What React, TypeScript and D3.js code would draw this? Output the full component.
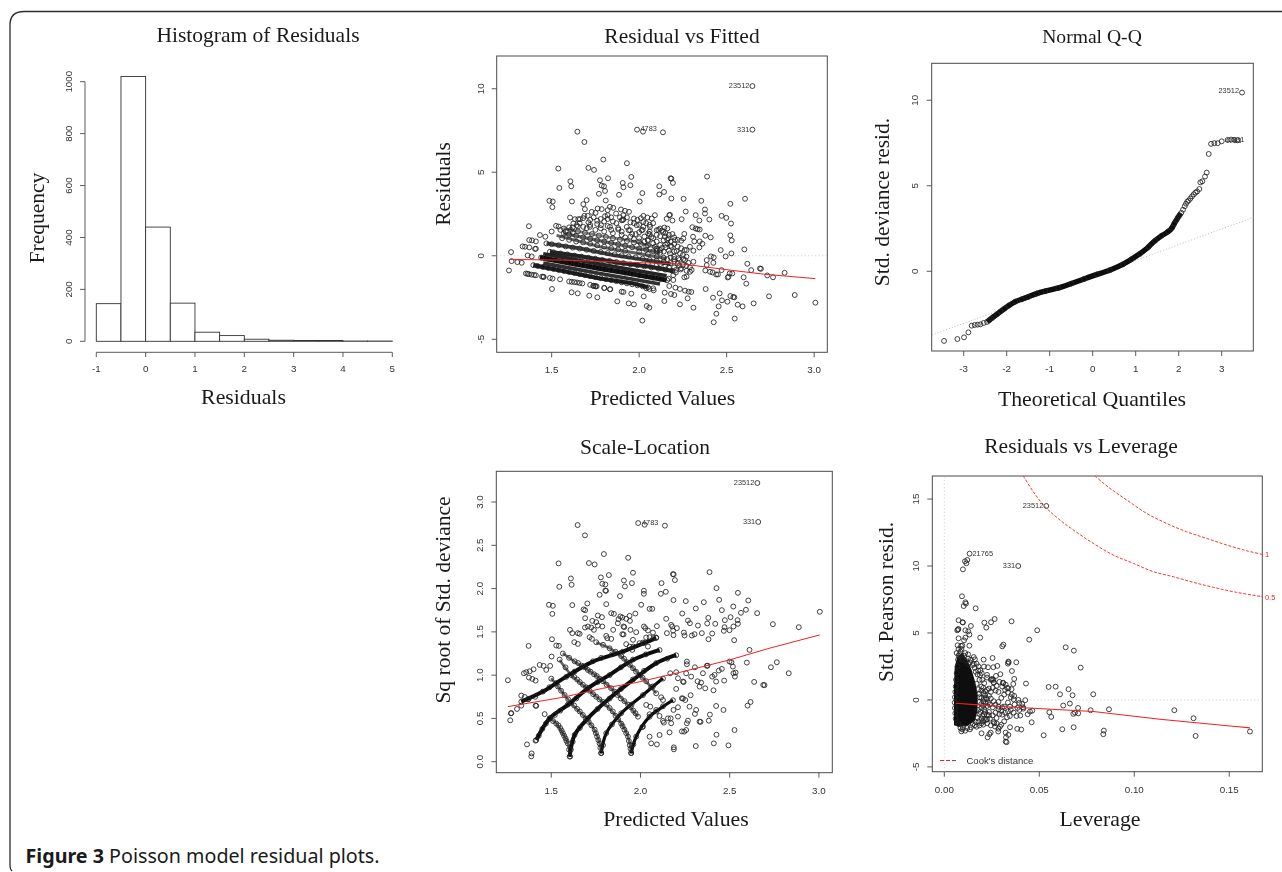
import React from "react";
import * as d3 from "d3";

type P = [number, number];

// ---- Histogram ----
const histEdges = [-1, -0.5, 0, 0.5, 1, 1.5, 2, 2.5, 3, 3.5, 4, 4.5, 5];
const histCounts = [145, 1020, 440, 147, 35, 22, 8, 4, 3, 3, 1, 1];
const histXTicks = [-1, 0, 1, 2, 3, 4, 5];
const histYTicks = [0, 200, 400, 600, 800, 1000];

// ---- Residual vs Fitted ----
const rvfFitLine: P[] = [[1.262,-.22],[1.567,-.26],[2.024,-.42],[2.252,-.5],[2.519,-.86],[2.71,-1.1],[3.007,-1.37]];
const rvfBandCores: P[][] = [
  [[1.433,-.1],[1.586,-.4],[1.776,-.76],[1.967,-1.1],[2.157,-1.46]],
  [[1.395,-.56],[1.586,-.96],[1.776,-1.36],[1.967,-1.66],[2.05,-1.88]],
  [[1.49,.24],[1.681,-.06],[1.871,-.4],[2.062,-.66],[2.195,-.92]],
  [[1.471,.74],[1.662,.44],[1.852,.04],[2.043,-.26],[2.18,-.5]],
  [[1.567,1.34],[1.757,.94],[1.947,.54],[2.12,.18]],
  [[1.567,1.64],[1.757,1.24],[1.947,.9],[2.119,.44]],
  [[1.452,-.44],[1.776,-1.06],[2.119,-1.69]],
  [[1.452,.12],[1.776,-.5],[2.157,-1.2]],
  [[1.528,1.22],[1.776,.54],[2.157,-.16]],
];
const rvfBandPoints: P[] = [
  [1.353,-1.06],[1.362,-1.08],[1.37,-1.1],[1.385,-1.13],[1.4,-1.15],[1.41,-1.17],[1.445,-1.25],[1.452,-1.26],[1.455,-1.27],[1.49,-1.33],[1.505,-1.37],[1.548,-1.41],[1.6,-1.54],[1.615,-1.56],[1.63,-1.58],[1.645,-1.6],[1.66,-1.63],[1.675,-1.66],[1.72,-1.74],[1.74,-1.79],[1.75,-1.82],[1.757,-1.83],[1.8,-1.93],[1.835,-2],
  [1.395,-.56],[1.42,-.61],[1.45,-.67],[1.48,-.73],[1.51,-.79],[1.54,-.85],[1.57,-.91],[1.6,-.97],[1.63,-1.03],[1.66,-1.1],[1.69,-1.16],[1.72,-1.22],[1.75,-1.28],[1.78,-1.34],[1.81,-1.4],[1.84,-1.46],[1.87,-1.52],[1.9,-1.59],[1.93,-1.65],[1.96,-1.71],[1.99,-1.77],[2.02,-1.83],[2.05,-1.89],[2.08,-1.95],
  [1.44,-.11],[1.48,-.19],[1.52,-.26],[1.56,-.34],[1.6,-.41],[1.64,-.49],[1.68,-.56],[1.72,-.64],[1.76,-.71],[1.8,-.79],[1.84,-.86],[1.88,-.93],[1.92,-1.01],[1.96,-1.08],[2,-1.16],[2.04,-1.23],[2.08,-1.31],[2.12,-1.38],[2.16,-1.46],
  [1.49,.24],[1.51,.21],[1.55,.14],[1.59,.08],[1.63,.01],[1.67,-.05],[1.71,-.12],[1.75,-.18],[1.79,-.25],[1.83,-.31],[1.87,-.38],[1.91,-.44],[1.95,-.51],[1.99,-.57],[2.03,-.64],[2.07,-.7],[2.11,-.77],[2.15,-.83],[2.19,-.9],
  [1.47,.74],[1.5,.69],[1.54,.63],[1.58,.56],[1.62,.49],[1.66,.43],[1.7,.36],[1.74,.29],[1.78,.23],[1.82,.16],[1.86,.09],[1.9,.03],[1.94,-.04],[1.98,-.1],[2.02,-.17],[2.06,-.24],[2.1,-.3],[2.14,-.37],[2.18,-.44],
  [1.57,1.33],[1.6,1.27],[1.64,1.19],[1.68,1.1],[1.72,1.02],[1.76,.93],[1.8,.85],[1.84,.77],[1.88,.68],[1.92,.6],[1.96,.51],[2,.43],[2.04,.35],[2.08,.26],[2.12,.18],
  [1.57,1.63],[1.61,1.55],[1.65,1.46],[1.69,1.38],[1.73,1.3],[1.77,1.21],[1.81,1.13],[1.85,1.04],[1.89,.96],[1.93,.88],[1.97,.79],[2.01,.71],[2.05,.62],[2.09,.54],[2.13,.46],
  [1.65,1.75],[1.7,1.65],[1.75,1.55],[1.8,1.45],[1.85,1.35],[1.9,1.25],[1.95,1.15],[2,1.05],[2.05,.95],[2.1,.85],
  [1.71,2],[1.76,1.9],[1.82,1.78],[1.88,1.66],[1.94,1.53],[2,1.41],[2.06,1.29],[2.12,1.17],
];
const rvfScatter: P[] = [
  [1.256,-.88],[1.268,.22],[1.271,-.32],[1.304,-.38],[1.329,-.42],[1.334,.56],[1.348,.54],[1.372,.5],[1.37,1.77],[1.372,.94],[1.388,.92],[1.41,.86],[1.41,.42],[1.405,.41],[1.363,.02],[1.386,-.04],[1.433,1.24],[1.464,1.14],[1.487,3.29],[1.506,3.25],[1.504,2.91],[1.538,5.22],[1.544,4.06],[1.5,1.45],[1.525,1.79],[1.54,1.75],[1.607,4.46],[1.612,4.16],[1.616,3.25],[1.647,7.43],[1.687,6.81],[1.71,5.26],[1.742,5.14],[1.776,4.52],[1.786,4.2],[1.799,4.16],[1.822,4.64],[1.77,3.71],[1.805,3.88],[1.809,3.31],[1.795,5.76],[1.93,5.54],[1.955,4.72],[1.906,4.36],[1.91,4.1],[1.95,4.22],[1.885,3.65],[1.988,7.55],[2.022,7.43],[2.136,7.39],[2.647,10.16],[2.647,7.55],[2.018,3.75],[2.003,3.25],[2.115,4.16],[2.115,3.67],[2.142,3.82],[2.18,4.64],[2.184,4.62],[2.193,4.36],[2.184,3.43],[2.254,3.41],[2.355,3.29],[2.388,4.74],[2.521,3.11],[2.605,3.41],[2.266,2.65],[2.376,2.77],[2.376,2.53],[2.323,2.43],[2.344,2.11],[2.401,2.17],[2.471,2.39],[2.498,2.27],[2.525,1.93],[2.243,2.19],[2.172,2.43],[2.176,2.45],[2.157,2.21],[2.19,2.11],[2.09,2.43],[2.521,1.22],[2.529,.92],[2.378,1.2],[2.409,1.1],[2.304,1.71],[2.323,1.63],[2.334,1.59],[2.346,1.57],[2.308,1.14],[2.315,.86],[2.346,.86],[2.361,.72],[2.344,.5],[2.258,1.31],[2.252,1.04],[2.466,.34],[2.601,.38],[2.527,.14],[2.494,-.04],[2.41,-.04],[2.426,-.1],[2.386,-.26],[2.424,-.42],[2.386,-.56],[2.471,-.86],[2.378,-.88],[2.405,-.96],[2.42,-1],[2.44,-1.12],[2.45,-1.12],[2.506,-1.3],[2.51,-1.26],[2.517,-1.06],[2.532,-1.06],[2.618,-.48],[2.64,-.86],[2.69,-.76],[2.696,-.78],[2.597,-1.29],[2.612,-1.67],[2.732,-1.18],[2.765,-1.29],[2.831,-1.02],[2.742,-2.43],[2.889,-2.35],[3.007,-2.81],[2.654,-2.85],[2.591,-3.03],[2.563,-2.93],[2.521,-2.41],[2.538,-2.47],[2.544,-2.49],[2.473,-2.67],[2.504,-2.75],[2.46,-2.25],[2.422,-2.51],[2.454,-3.03],[2.441,-3.47],[2.426,-3.98],[2.546,-3.76],[2.38,-1.99],[2.31,-3.11],[2.277,-2.55],[2.233,-2.91],[2.298,-2.17],[2.283,-2.15],[2.262,-2.09],[2.233,-1.99],[2.201,-2.35],[2.182,-2.29],[2.146,-2.21],[2.144,-2.71],[2.207,-1.91],[2.172,-1.81],[2.195,-1.45],[2.169,-1.37],[2.083,-2.07],[2.058,-1.99],[2.041,-1.95],[2.043,-3.01],[2.058,-3.11],[2.018,-3.88],[2.026,-2.43],[1.97,-2.91],[1.94,-2.85],[1.955,-2.27],[1.9,-2.15],[1.91,-2.17],[1.875,-2.73],[1.833,-2.01],[1.801,-1.93],[1.761,-2.49],[1.715,-2.39],[1.649,-2.25],[1.614,-2.19],[1.502,-1.99],[1.738,-1.81],[1.751,-1.83],
  [1.605,2.29],[1.633,2.19],[1.652,2.19],[1.662,2.19],[1.7,3.33],[1.681,3.09],[1.69,2.79],[1.687,2.39],[1.706,2.39],[1.729,2.63],[1.751,2.57],[1.763,2.83],[1.786,2.79],[1.833,2.93],[1.852,2.87],[1.896,2.77],[1.919,2.69],[1.942,2.63],[1.82,2.73],[1.82,2.43],[1.805,2.37],[1.868,2.53],[1.91,2.43],[1.97,2.23],[2.024,2.39],[2.047,2.29],[2.072,2.23],[1.9,2.13],[1.91,2.17],[1.905,2.14],[1.624,1.93],[1.643,1.83],[1.681,1.73],[1.719,1.73],[1.782,1.83],[1.833,1.73],[1.881,1.57],[1.929,1.73],[1.948,1.53],[2.024,2.03],[2.024,1.73],[2.062,1.73],[1.986,1.83],[2.014,1.53],[2.052,1.33],[2.1,1.53],[2.119,1.63],[2.144,1.69],[2.161,1.63],[2.138,1.43],[2.148,1.14],[2.167,1.04],[2.205,.94],[2.161,.74],[2.186,.54],[2.214,.28],[2.233,.14],[2.271,.34],[2.31,.3],[2.29,.54],[2.2,-.06],[2.224,-.16],[2.252,-.2],[2.262,-.26],[2.281,-.42],[2.271,-.9],[2.29,-.96],[2.258,-1.29],[2.271,-1.25],[2.31,-.36],[2.237,-.82],[2.195,-1.16],[2.119,.34],[2.1,.28],[2.176,.14],[2.05,.9],[2.07,1.12],[2.14,.92],[2.18,.6],[2.2,.26],[2.12,-.5],[2.17,-.7],[2.23,-.6],[2.21,-1],[1.98,1.3],[2.03,1.15],[2.08,.75],[2.15,.66],
  [1.62,1.7],[1.66,1.95],[1.68,2.25],[1.72,2.15],[1.74,2.3],[1.76,2.1],[1.78,2.2],[1.8,2.05],[1.82,2.2],[1.84,2.3],[1.85,2.05],[1.87,1.95],[1.89,2.3],[1.93,2.3],[1.95,2],[1.97,1.95],[1.99,2.15],[2,1.85],[2.01,2.25],[2.04,1.95],[2.06,1.85],[2.08,1.95],[2.11,1.55],[2.13,1.5],[2.15,1.35],[2.17,1.25],[2.19,1.3],[2.2,1.1],[2.22,.95],[2.24,.9],[2.16,.95],[2.18,.85],[2.2,.7],[2.22,.55],[2.24,.45],[2.26,.35],[2.25,.05],[2.27,-.05],[2.23,-.25],[2.2,-.35],[2.22,-.45],[2.25,-.55],[2.27,-.6],[2.29,-.7],[2.24,-.75],[2.2,-.7],[2.21,-.85],[2.3,-.85],[1.72,1.85],[1.78,1.65],[1.84,1.55],[1.9,1.45],[1.96,1.3],[2.02,1.55],[2.06,1.45],[2.1,1.25],[1.92,1.1],[1.97,1],[2.03,.85],[2.08,1.05],[2.12,.65],[2.15,.5],[2,.85],[2.04,.55],[2.1,.42],[2.14,.25],[2.17,.3],[2,.25],[2.05,.1],[2.1,-.05],[2.14,-.12],[2.16,-.2],[2.18,-.1],[2.05,-.45],[2.1,-.55],[2.15,-.62],[2.2,-.2],[1.55,1.55],[1.58,1.45],[1.62,1.38],[1.6,1.7],[1.56,1.05],[1.6,.95],[1.64,.85],[1.68,.8],[1.72,.72],[1.76,.62],[1.8,.55],[1.84,.45],[1.88,.38],[1.92,.3],
];
const rvfLabels = [{ t: "23512", p: [2.647, 10.16] as P }, { t: "331", p: [2.647, 7.55] as P }];

// ---- Normal Q-Q ----
const qqRefLine: P[] = [[-3.737,-3.72],[3.744,3.16]];
const qqCore: P[] = [[-2.457,-2.96],[-2.302,-2.65],[-2.147,-2.36],[-1.992,-2.07],[-1.798,-1.77],[-1.527,-1.52],[-1.217,-1.23],[-.752,-.94],[-.364,-.6],[0,-.27],[.411,.08],[.721,.43],[1,.86],[1.264,1.35],[1.419,1.73],[1.574,2.03],[1.806,2.42],[1.922,2.9],[2.05,3.4]];
const qqPoints: P[] = [
  [-3.457,-4.07],[-3.147,-3.96],[-2.992,-3.86],[-2.891,-3.57],[-2.814,-3.18],[-2.744,-3.14],[-2.674,-3.12],[-2.612,-3.1],[-2.535,-3.02],[-2.457,-2.96],[-2.4,-2.85],[-2.35,-2.75],[-2.3,-2.65],[-2.22,-2.5],[-2.15,-2.36],[-2.05,-2.18],[-1.95,-2],[-1.8,-1.77],[-1.65,-1.64],[-1.5,-1.5],[-1.3,-1.3],[-1.1,-1.16],[-.8,-.98],[-.5,-.72],[-.2,-.45],[.1,-.18],[.4,.07],[.7,.4],[.9,.7],[1.1,1.02],[1.3,1.43],[1.45,1.78],[1.6,2.08],[1.75,2.33],[1.85,2.55],[1.9,2.8],[1.95,3],[1.98,3.15],[2.02,3.27],[2.06,3.42],[2.1,3.6],[2.14,3.8],[2.17,3.95],[2.2,4.07],[2.23,4.13],[2.27,4.25],[2.31,4.38],[2.35,4.5],[2.39,4.6],[2.43,4.67],[2.48,4.81],[2.504,5.2],[2.55,5.26],[2.612,5.54],[2.651,5.77],[2.698,6.86],[2.752,7.45],[2.829,7.49],[2.907,7.49],[3,7.6],[3.14,7.68],[3.22,7.7],[3.295,7.68],[3.37,7.66],[3.473,10.45],
];
const qqLabels = [{ t: "23512", p: [3.473, 10.45] as P }];

// ---- Scale-Location ----
const slFitLine: P[] = [[1.257,.636],[1.565,.744],[1.789,.848],[1.976,.914],[2.238,1.041],[2.499,1.176],[2.723,1.311],[3.005,1.465]];
const slRisingArcs: P[][] = [
  [[1.332,.694],[1.453,.81],[1.584,.983],[1.733,1.157],[1.901,1.273],[2.088,1.427]],
  [[1.416,.251],[1.491,.501],[1.593,.656],[1.705,.848],[1.827,1.003],[1.958,1.176],[2.107,1.292]],
  [[1.603,.058],[1.631,.309],[1.705,.501],[1.827,.733],[1.958,.945],[2.088,1.138],[2.2,1.234]],
  [[1.78,.096],[1.808,.328],[1.892,.559],[2.014,.771],[2.126,.964]],
  [[1.948,.096],[1.976,.289],[2.051,.521],[2.126,.636],[2.182,.713]],
];
const slFallingArcs: P[][] = [
  [[1.606,.058],[1.593,.212],[1.565,.328],[1.528,.444],[1.491,.501]],
  [[1.78,.096],[1.771,.212],[1.743,.366],[1.677,.54],[1.612,.675],[1.537,.868],[1.5,.964]],
  [[1.948,.096],[1.93,.289],[1.892,.444],[1.827,.617],[1.752,.752],[1.677,.887],[1.612,1.003],[1.547,1.176]],
  [[1.986,.521],[1.93,.656],[1.855,.81],[1.771,.964],[1.705,1.061],[1.631,1.157],[1.565,1.253]],
  [[2.088,.791],[2.032,.926],[1.958,1.08],[1.892,1.215],[1.827,1.311],[1.752,1.377]],
];
const slArcPoints: P[] = [
  [1.332,.694],[1.37,.72],[1.41,.75],[1.453,.81],[1.49,.86],[1.53,.91],[1.584,.98],[1.63,1.04],[1.68,1.1],[1.733,1.16],[1.78,1.2],[1.84,1.24],[1.9,1.27],[1.96,1.33],[2.02,1.37],[2.088,1.43],
  [1.416,.25],[1.43,.3],[1.45,.38],[1.47,.44],[1.491,.5],[1.52,.54],[1.55,.59],[1.593,.66],[1.64,.73],[1.705,.85],[1.76,.92],[1.827,1],[1.89,1.09],[1.958,1.18],[2.03,1.24],[2.107,1.29],
  [1.603,.06],[1.61,.14],[1.62,.23],[1.631,.31],[1.66,.39],[1.705,.5],[1.76,.61],[1.827,.73],[1.89,.84],[1.958,.95],[2.02,1.05],[2.088,1.14],[2.15,1.19],[2.2,1.23],
  [1.78,.1],[1.79,.19],[1.808,.33],[1.84,.43],[1.892,.56],[1.95,.66],[2.014,.77],[2.07,.87],[2.126,.96],
  [1.948,.1],[1.96,.2],[1.976,.29],[2.01,.4],[2.051,.52],[2.09,.58],[2.126,.64],[2.182,.71],
  [1.606,.06],[1.6,.14],[1.593,.21],[1.585,.24],[1.58,.27],[1.572,.3],[1.565,.33],[1.558,.36],[1.55,.39],[1.54,.42],[1.528,.44],[1.51,.47],[1.491,.5],[1.463,.55],
  [1.78,.1],[1.775,.16],[1.771,.21],[1.764,.25],[1.757,.29],[1.75,.33],[1.743,.37],[1.725,.42],[1.71,.46],[1.693,.5],[1.677,.54],[1.66,.58],[1.645,.61],[1.628,.65],[1.612,.68],[1.595,.72],[1.575,.77],[1.555,.82],[1.537,.87],[1.5,.96],
  [1.948,.1],[1.944,.15],[1.94,.19],[1.935,.24],[1.93,.29],[1.92,.33],[1.91,.37],[1.9,.41],[1.892,.44],[1.875,.49],[1.86,.53],[1.845,.58],[1.827,.62],[1.81,.66],[1.79,.69],[1.77,.72],[1.752,.75],[1.735,.78],[1.715,.82],[1.695,.86],[1.677,.89],[1.66,.92],[1.645,.95],[1.628,.98],[1.612,1],[1.58,1.09],[1.547,1.18],
  [1.986,.52],[1.972,.56],[1.96,.59],[1.945,.63],[1.93,.66],[1.91,.7],[1.89,.73],[1.872,.77],[1.855,.81],[1.835,.85],[1.81,.89],[1.79,.93],[1.771,.96],[1.755,.99],[1.74,1.01],[1.72,1.04],[1.705,1.06],[1.69,1.09],[1.67,1.11],[1.65,1.14],[1.631,1.16],[1.6,1.2],[1.565,1.25],
  [2.088,.79],[2.06,.86],[2.032,.93],[2.012,.97],[1.995,1],[1.975,1.04],[1.958,1.08],[1.94,1.12],[1.925,1.15],[1.908,1.19],[1.892,1.22],[1.86,1.27],[1.827,1.31],[1.79,1.35],[1.752,1.38],
];
const slScatter: P[] = [
  [2.655,3.22],[2.66,2.77],[1.257,.941],[1.27,.478],[1.274,.559],[1.276,.561],[1.308,.609],[1.332,.648],[1.332,.764],[1.351,.748],[1.373,.725],[1.373,1.338],[1.375,.972],[1.394,.956],[1.412,.937],[1.347,1.022],[1.36,1.034],[1.379,1.045],[1.401,1.068],[1.364,.2],[1.39,.096],[1.388,.062],[1.412,.648],[1.416,.645],[1.412,.243],[1.435,1.118],[1.457,1.107],[1.472,1.061],[1.494,1.107],[1.502,1.215],[1.504,1.415],[1.528,1.342],[1.543,1.338],[1.506,1.708],[1.487,1.813],[1.509,1.801],[1.541,2.291],[1.545,2.021],[1.61,2.117],[1.614,2.044],[1.618,1.809],[1.648,2.734],[1.689,2.615],[1.711,2.295],[1.743,2.279],[1.778,2.129],[1.786,2.056],[1.803,2.048],[1.803,1.978],[1.807,1.974],[1.795,2.399],[1.771,1.928],[1.823,2.156],[1.808,1.82],[1.681,1.759],[1.69,1.75],[1.702,1.828],[1.69,1.658],[1.605,1.523],[1.618,1.485],[1.649,1.485],[1.659,1.477],[1.629,1.381],[1.649,1.361],[1.689,1.55],[1.705,1.562],[1.724,1.55],[1.715,1.438],[1.728,1.419],[1.761,1.689],[1.784,1.67],[1.73,1.627],[1.752,1.612],[1.761,1.573],[1.786,1.562],[1.739,1.523],[1.808,1.454],[1.836,1.419],[1.814,1.427],[1.836,1.716],[1.851,1.708],[1.887,1.678],[1.877,1.647],[1.898,1.666],[1.92,1.651],[1.939,1.685],[1.941,1.627],[1.971,1.712],[1.847,1.523],[1.873,1.6],[1.905,1.562],[1.909,1.555],[1.944,1.523],[1.976,1.496],[1.898,1.473],[1.905,1.47],[1.958,1.408],[2.004,1.813],[2.051,1.766],[2.066,1.766],[1.885,1.913],[1.913,2.025],[1.907,2.094],[1.958,2.183],[1.952,2.063],[1.931,2.356],[2.019,1.975],[2.019,1.94],[1.987,2.757],[2.023,2.738],[2.137,2.727],[2.114,1.94],[2.118,2.063],[2.142,1.963],[2.182,2.167],[2.186,2.164],[2.193,2.098],[2.185,1.867],[2.254,1.855],[2.387,2.19],[2.426,2.005],[2.355,1.843],[2.31,1.77],[2.441,1.87],[2.546,1.951],[2.604,1.863],[2.591,1.755],[2.563,1.72],[2.654,1.716],[2.456,1.751],[2.52,1.793],[2.473,1.635],[2.38,1.662],[2.266,1.631],[2.234,1.712],[2.277,1.6],[2.419,1.593],[2.374,1.597],[2.322,1.573],[2.243,1.492],[2.467,1.512],[2.471,1.554],[2.505,1.67],[2.544,1.635],[2.546,1.593],[2.521,1.562],[2.499,1.519],[2.525,1.404],[2.402,1.481],[2.344,1.485],[2.303,1.473],[2.288,1.458],[2.247,1.458],[2.381,1.415],[2.742,1.589],[2.887,1.554],[3.005,1.732],[2.611,1.292],[2.596,1.145],[2.731,1.091],[2.764,1.149],[2.831,1.022],[2.637,.922],[2.688,.887],[2.695,.884],[2.617,.69],[2.6,.648],[2.527,.366],[2.493,.189],[2.411,.212],[2.426,.312],[2.31,.181],[2.187,.166],[2.187,.143],[2.383,.474],[2.389,.544],[2.409,.825],[2.424,.926],[2.469,.937],[2.424,.644],[2.465,.598],[2.529,.983],[2.521,1.022],[2.533,1.03],[2.518,1.099],[2.51,1.149],[2.499,1.157],[2.456,1.072],[2.439,1.053],[2.415,1.003],[2.402,.983],[2.372,1.107],[2.376,1.11],[2.35,1.022],[2.26,1.157],[2.26,1.126],[2.284,.983],[2.256,1.022],[2.305,1.091],[2.32,.929],[2.34,.914],[2.331,.868],[2.363,.848],[2.238,.926],[2.242,.92],[2.21,.964],[2.2,1.034],[2.2,.841],[2.167,1.022],[2.281,.768],[2.232,.733],[2.238,.73],[2.251,.713],[2.312,.598],[2.275,.636],[2.305,.552],[2.331,.463],[2.337,.46],[2.266,.474],[2.26,.444],[2.245,.347],[2.232,.35],[2.256,.366],[2.163,.339],[2.107,.309],[2.092,.2],[2.06,.212],[2.051,.289],[2.014,.405],[2.21,.521],[2.169,.501],[2.185,.598],[2.21,.629],[2.116,.744],[2.126,.713],[2.088,.598],[2.051,.548],[2.032,.656],[2.055,.636],[2.107,.528],[2.126,.471],[2.154,.501],[2.172,.444],[2.131,.451],
  [2.144,1.651],[2.092,1.566],[2.172,1.581],[2.178,1.562],[2.183,1.515],[2.148,1.485],[2.185,1.462],[2.204,1.543],[2.019,1.562],[2.027,1.543],[2.042,1.516],[2.07,1.492],[2.032,1.435],[2.051,1.438],[2.073,1.427],[2.088,1.435],[1.995,1.369],[2.014,1.377],[2.042,1.33],[1.92,1.358],[1.939,1.33],[1.954,1.292],
];
const slLabels = [{ t: "23512", p: [2.655, 3.22] as P }, { t: "331", p: [2.66, 2.77] as P }];

// ---- Residuals vs Leverage ----
const rlFitLine: P[] = [[.006,-.25],[.0161,-.35],[.0258,-.45],[.0468,-.62],[.0784,-.87],[.1135,-1.44],[.1609,-2.09]];
const cookHalf: P[] = [[.0416,16.72],[.0468,15.55],[.053,14.43],[.0609,13.43],[.0679,12.69],[.0784,11.69],[.0889,10.82],[.0995,10.2],[.11,9.58],[.1205,9.2],[.1311,8.78],[.1416,8.41],[.1539,8.03],[.1674,7.71]];
const cookOne: P[] = [[.0793,16.72],[.0872,15.8],[.096,14.93],[.1065,13.93],[.117,13.18],[.1275,12.56],[.1381,12.06],[.1486,11.57],[.1591,11.14],[.1674,10.87]];
const rlCoreOutline: P[] = [[.0051,-1.9],[.0075,-2],[.012,-1.95],[.016,-1.6],[.0175,-.8],[.0175,.3],[.0165,1.2],[.0145,2.2],[.012,3],[.0095,3.5],[.007,3.3],[.0055,2.5],[.0051,1]];
const rlEdgeRings: P[] = [
  [.006,-1.4],[.0058,-1],[.0056,-.6],[.0055,-.2],[.0056,.2],[.0058,.6],[.006,1],[.0062,1.5],[.0065,2],[.007,2.5],[.0072,3],[.008,3.4],[.0085,3.6],[.009,3.2],[.0095,3],[.0105,3.3],[.0115,2.9],[.0125,2.7],[.0135,2.8],[.015,2.6],[.016,2.4],[.017,2.7],[.018,2.5],[.019,2.2],[.0175,1.9],[.0185,1.5],[.0195,1],[.017,1.2],[.018,.8],[.0205,.5],[.021,.1],[.0185,.2],[.0195,-.3],[.021,-.7],[.019,-.9],[.02,-1.2],[.022,-1.5],[.018,-1.6],[.016,-1.9],[.014,-2.05],[.012,-2.1],[.0095,-2.2],[.009,-2.35],[.0085,-2.1],[.0075,-1.8],[.0065,3.5],[.0075,3.8],
  [.0165,2.1],[.0178,2.2],[.0155,2.7],[.014,3],[.0125,3.1],[.011,3.5],[.009,3.8],[.0075,3.3],[.0188,1.85],[.0197,2],[.02,1.5],[.021,1.25],[.0195,.7],[.0205,.9],[.0215,.65],[.0185,.45],[.0195,.15],[.0205,-.1],[.0185,-.15],[.0195,-.6],[.0205,-.45],[.0178,-.75],[.0185,-1.05],[.0195,-1.4],[.021,-1.1],[.0175,-1.35],[.0165,-1.65],[.015,-1.8],[.0185,-1.9],[.0195,-1.75],[.0205,-1.85],[.017,-2],[.0135,-2.2],[.011,-2.3],[.0098,-2.05],[.0215,.35],[.0225,.05],[.023,-.2],[.0215,-.25],[.0215,-.9],[.0235,-1.15],[.0225,-1.45],[.0205,-1.6],[.0125,3.4],[.0155,3.2],
];
const rlCloudRings: P[] = [
  [.0225,.75],[.0235,.85],[.0245,.6],[.0255,.9],[.027,.7],[.0235,.3],[.0245,.1],[.026,-.1],[.024,-.35],[.0255,-.55],[.027,-.35],[.0285,-.15],[.03,.15],[.0315,.4],[.032,.75],[.0305,1],[.0285,.6],[.0335,.55],[.035,.2],[.0365,.05],[.0335,-.2],[.0315,-.5],[.03,-.8],[.0285,-.7],[.027,-.95],[.0255,-1.15],[.024,-1.4],[.0225,-1.75],[.0245,-1.9],[.026,-1.65],[.0275,-1.35],[.029,-1.05],[.0305,-1.1],[.032,-.95],[.0335,-.85],[.035,-.75],[.0365,-.95],[.038,-1.2],[.0395,-.75],[.0415,-.55],[.0345,-1.2],[.033,-1.3],[.0315,-1.6],[.03,-1.85],[.0285,-2.15],[.0275,-1.75],[.0225,-1.1],[.021,-1.4],[.0235,-.9],[.0225,-.45],[.022,.15],[.0285,-.5],[.0305,-.55],[.0355,.4],[.037,-.35],[.0385,-.6],[.0345,-.5],[.039,0],[.041,-.3],[.033,.9],[.031,1.25],[.029,1.35],[.0275,1.05],[.026,1.3],
];
const rlScatter: P[] = [
  [.0098,9.75],[.0116,10.2],[.0121,10.45],[.0133,10.92],[.0109,10.35],[.0537,14.48],[.0389,10],[.0093,7.74],[.0111,7.29],[.0114,7.19],[.0102,7.01],[.0165,6.84],[.0075,5.95],[.0096,5.8],[.0098,5.78],[.014,5.52],[.0211,5.77],[.0221,5.4],[.0246,5.8],[.0265,6.04],[.0354,5.87],[.0489,5.2],[.0447,4.5],[.0074,5.3],[.0072,5.25],[.0068,5.2],[.0111,5.2],[.0126,5.12],[.0132,4.88],[.0189,4.65],[.0075,4.6],[.0104,4.45],[.0111,4.65],[.007,4.08],[.0088,4.03],[.0095,4.05],[.0132,4.05],[.0305,4],[.0311,4.13],[.0639,3.93],[.0682,3.68],[.0718,2.41],[.0254,3.13],[.0207,3.01],[.0161,3.03],[.0379,2.81],[.0337,2.86],[.0335,2.71],[.0339,2.81],[.0356,2.16],[.023,2.44],[.0209,2.49],[.0258,2.44],[.0279,2.54],[.0295,1.92],[.0225,1.87],[.0225,1.67],[.0272,1.79],[.0249,1.54],[.0253,1.56],[.0245,1.5],[.0258,1.49],[.0261,1.29],[.0368,1.57],[.0363,1.19],[.043,1.22],[.0309,1.29],[.0323,1.14],[.0337,.87],[.0354,.8],[.0368,.3],[.0426,-.02],[.0549,.97],[.0586,.99],[.0654,.8],[.0609,.42],[.0675,.35],[.0784,.42],[.0626,-.42],[.0661,-.27],[.0704,-.6],[.0679,-1.04],[.0705,-1],[.0688,-.95],[.077,-.77],[.0867,-.7],[.1211,-.77],[.1312,-1.37],[.1323,-2.69],[.1609,-2.36],[.084,-2.29],[.0837,-2.56],[.0681,-2.04],[.0621,-2.19],[.0523,-2.64],[.046,-1.67],[.0563,-1.27],[.0553,-.92],[.0463,-.8],[.0451,-.87],[.0416,-.65],[.0395,-.22],[.04,-1.17],[.0439,-1.07],[.0405,-2.21],[.0384,-2.16],[.0346,-2.04],[.0337,-2.61],[.0323,-2.44],[.0325,-2.79],[.0323,-3.11],[.0328,-3.16],[.0244,-2.44],[.0237,-2.56],[.0228,-2.79],[.0196,-2.49],[.0284,-2.36],[.0267,-1.99],[.0263,-1.74],[.0293,-1.99],
];
const rlLabels = [{ t: "23512", p: [.0537, 14.48] as P }, { t: "331", p: [.0389, 10] as P }];

const serif = "'Liberation Serif', 'Times New Roman', serif";
const sans = "'Liberation Sans', Arial, sans-serif";
const INK = "#222";
const AX = "#4a4a4a";

function Rings({ pts, sx, sy }: { pts: P[]; sx: any; sy: any }) {
  return <g fill="none" stroke={INK} strokeWidth={0.85}>
    {pts.map((p, i) => <circle key={i} cx={sx(p[0])} cy={sy(p[1])} r={2.45} />)}
  </g>;
}

function Axes({ sx, sy, xt, yt, fx, fy, box, title, tx, ty, ts = 21.5, xl, xlx, xly, yl, ylx, yly, yTickX, xTickY }: any) {
  const [x0, x1] = sx.range(); const [y1, y0] = sy.range();
  return <g>
    {box && <rect x={x0} y={y0} width={x1 - x0} height={y1 - y0} fill="none" stroke={AX} strokeWidth={1} />}
    {xt.length > 0 && <g stroke={AX} strokeWidth={0.9}>
      {xt.map((t: number) => <line key={t} x1={sx(t)} x2={sx(t)} y1={y1} y2={y1 + 5} />)}
      {yt.map((t: number) => <line key={t} y1={sy(t)} y2={sy(t)} x1={x0} x2={x0 - 5} />)}
    </g>}
    <g fontFamily={sans} fontSize={9.8} fill="#333" textAnchor="middle">
      {xt.map((t: number) => <text key={t} x={sx(t)} y={xTickY}>{fx(t)}</text>)}
      {yt.map((t: number) => <text key={t} transform={`translate(${yTickX},${sy(t)}) rotate(-90)`}>{fy(t)}</text>)}
    </g>
    <g fontFamily={serif} fill="#1a1a1a" textAnchor="middle">
      <text x={tx} y={ty} fontSize={ts}>{title}</text>
      <text x={xlx} y={xly} fontSize={21.8}>{xl}</text>
      <text transform={`translate(${ylx},${yly}) rotate(-90)`} fontSize={21.5}>{yl}</text>
    </g>
  </g>;
}

const PtLabel = ({ x, y, t, anchor = "end" }: any) =>
  <text x={x} y={y} fontFamily={sans} fontSize={7.4} fill="#333" textAnchor={anchor}>{t}</text>;

export default function App() {
  const path = (s: any, t: any) => d3.line<P>().x(d => s(d[0])).y(d => t(d[1]));
  const smooth = (s: any, t: any) => d3.line<P>().x(d => s(d[0])).y(d => t(d[1])).curve(d3.curveCatmullRom);

  const hx = d3.scaleLinear().domain([-1, 5]).range([96.3, 392.3]);
  const hy = d3.scaleLinear().domain([0, 1000]).range([341.3, 81.7]);

  const ax = d3.scaleLinear().domain([1.186, 3.075]).range([496.7, 827.3]);
  const ay = d3.scaleLinear().domain([-5.78, 11.96]).range([352.3, 56]);
  const aLine = path(ax, ay);

  const qx = d3.scaleLinear().domain([-3.744, 3.735]).range([931.7, 1253.3]);
  const qy = d3.scaleLinear().domain([-4.66, 12.16]).range([351, 63.3]);
  const qLine = smooth(qx, qy);

  const sx = d3.scaleLinear().domain([1.192, 3.075]).range([496.3, 832.3]);
  const sy = d3.scaleLinear().domain([-.127, 3.355]).range([772.7, 471.3]);
  const sLine = smooth(sx, sy);

  const lx = d3.scaleLinear().domain([-.00632, .1674]).range([932.3, 1262.3]);
  const ly = d3.scaleLinear().domain([-5.36, 16.72]).range([771.7, 476]);
  const lLine = smooth(lx, ly);

  const bandW = [5, 4.2, 4.2, 3.8, 3.2, 2.8, 3.6, 3.6, 3];
  const bandO = [1, .95, .9, .8, .65, .5, .85, .9, .65];

  return <svg width={1282} height={872} style={{ position: "absolute", left: 0, top: 0, background: "#fff" }}>
    <path d="M1282,11.5 H24 Q10,11.5 10,25 V866 Q10,869 12,871" fill="none" stroke="#2b2b2b" strokeWidth={1.3} />
    <text x={25.5} y={862.5} fontFamily="'Noto Sans', sans-serif" fontSize={19.7} fill="#1a1a1a">
      <tspan fontWeight={700}>Figure 3</tspan> Poisson model residual plots.
    </text>

    <g style={{ filter: "blur(0.3px)" }}>
      {/* Histogram */}
      <g fill="#fff" stroke="#333" strokeWidth={0.9}>
        {histCounts.map((c, i) => <rect key={i} x={hx(histEdges[i])} y={hy(c)} width={hx(histEdges[i + 1]) - hx(histEdges[i])} height={hy(0) - hy(c)} />)}
      </g>
      <Axes sx={d3.scaleLinear().domain([-1, 5]).range([85, 392.3])} sy={d3.scaleLinear().domain([0, 1000]).range([352.3, 81.7])}
        xt={[]} yt={[]} fx={String} fy={String} title="Histogram of Residuals" tx={258} ty={42} xl="Residuals" xlx={243.5} xly={404} yl="Frequency" ylx={44} yly={218} />
      <g stroke={AX} strokeWidth={0.9}>
        {histXTicks.map(t => <line key={t} x1={hx(t)} x2={hx(t)} y1={352.3} y2={357} />)}
        <line x1={hx(-1)} x2={hx(5)} y1={352.3} y2={352.3} />
        {histYTicks.map(t => <line key={t} x1={80} x2={85} y1={hy(t)} y2={hy(t)} />)}
        <line x1={85} x2={85} y1={hy(0)} y2={hy(1000)} />
      </g>
      <g fontFamily={sans} fontSize={9.8} fill="#333" textAnchor="middle">
        {histXTicks.map(t => <text key={t} x={hx(t)} y={372}>{t}</text>)}
        {histYTicks.map(t => <text key={t} transform={`translate(72,${hy(t)}) rotate(-90)`}>{t}</text>)}
      </g>

      {/* Residual vs Fitted */}
      <Axes sx={ax} sy={ay} box xt={[1.5, 2, 2.5, 3]} yt={[-5, 0, 5, 10]} fx={(t: number) => t.toFixed(1)} fy={String}
        title="Residual vs Fitted" tx={682} ty={43} xl="Predicted Values" xlx={662.5} xly={405} yl="Residuals" ylx={450} yly={184} yTickX={484} xTickY={372.5} />
      <line x1={ax.range()[0]} x2={ax.range()[1]} y1={ay(0)} y2={ay(0)} stroke="#bbb" strokeWidth={.8} strokeDasharray="1 2.5" />
      {rvfBandCores.map((b, i) => <path key={i} d={aLine(b) || ""} fill="none" stroke="#0c0c0c" strokeWidth={bandW[i]} strokeOpacity={bandO[i]} />)}
      <Rings pts={rvfBandPoints} sx={ax} sy={ay} />
      <Rings pts={rvfScatter} sx={ax} sy={ay} />
      <path d={aLine(rvfFitLine) || ""} fill="none" stroke="#f02020" strokeWidth={1} />
      {rvfLabels.map(l => <PtLabel key={l.t} x={ax(l.p[0]) - 3} y={ay(l.p[1]) + 2} t={l.t} />)}
      <PtLabel x={640.5} y={131} t="4783" anchor="start" />

      {/* Normal QQ */}
      <Axes sx={qx} sy={qy} box xt={[-3, -2, -1, 0, 1, 2, 3]} yt={[0, 5, 10]} fx={String} fy={String}
        title="Normal Q-Q" tx={1092} ty={43} ts={19.6} xl="Theoretical Quantiles" xlx={1092} xly={406} yl="Std. deviance resid." ylx={889} yly={202} yTickX={918} xTickY={372} />
      <path d={path(qx, qy)(qqRefLine) || ""} fill="none" stroke="#aaa" strokeWidth={.8} strokeDasharray="1 2" />
      <path d={qLine(qqCore) || ""} fill="none" stroke="#0c0c0c" strokeWidth={5.4} />
      <Rings pts={qqPoints} sx={qx} sy={qy} />
      {qqLabels.map(l => <PtLabel key={l.t} x={qx(l.p[0]) - 3} y={qy(l.p[1])} t={l.t} />)}
      <PtLabel x={1225} y={143} t="4783" anchor="start" />
      <PtLabel x={1232} y={142} t="331" anchor="start" />

      {/* Scale-Location */}
      <Axes sx={sx} sy={sy} box xt={[1.5, 2, 2.5, 3]} yt={[0, .5, 1, 1.5, 2, 2.5, 3]} fx={(t: number) => t.toFixed(1)} fy={(t: number) => t.toFixed(1)}
        title="Scale-Location" tx={645} ty={454} xl="Predicted Values" xlx={676} xly={826} yl="Sq root of Std. deviance" ylx={450} yly={600} yTickX={483} xTickY={793.5} />
      {slFallingArcs.map((b, i) => <path key={i} d={sLine(b) || ""} fill="none" stroke="#0c0c0c" strokeWidth={2.6} strokeOpacity={.65} />)}
      {slRisingArcs.map((b, i) => <path key={i} d={sLine(b) || ""} fill="none" stroke="#0c0c0c" strokeWidth={i < 3 ? 4 : 3.2} />)}
      <Rings pts={slArcPoints} sx={sx} sy={sy} />
      <Rings pts={slScatter} sx={sx} sy={sy} />
      <path d={path(sx, sy)(slFitLine) || ""} fill="none" stroke="#f02020" strokeWidth={1} />
      {slLabels.map(l => <PtLabel key={l.t} x={sx(l.p[0]) - 3} y={sy(l.p[1]) + 2} t={l.t} />)}
      <PtLabel x={642} y={525} t="4783" anchor="start" />

      {/* Residuals vs Leverage */}
      <Axes sx={lx} sy={ly} box xt={[0, .05, .1, .15]} yt={[-5, 0, 5, 10, 15]} fx={(t: number) => t.toFixed(2)} fy={String}
        title="Residuals vs Leverage" tx={1081} ty={453} xl="Leverage" xlx={1100} xly={826} yl="Std. Pearson resid." ylx={893} yly={602} yTickX={919} xTickY={793} />
      <line x1={lx.range()[0]} x2={lx.range()[1]} y1={ly(0)} y2={ly(0)} stroke="#bbb" strokeWidth={.8} strokeDasharray="1 2.5" />
      <line x1={lx(0)} x2={lx(0)} y1={ly.range()[0]} y2={ly.range()[1]} stroke="#bbb" strokeWidth={.8} strokeDasharray="1 2.5" />
      <path d={(path(lx, ly)(rlCoreOutline) || "") + "Z"} fill="#0e0e0e" />
      <Rings pts={rlEdgeRings} sx={lx} sy={ly} />
      <Rings pts={rlCloudRings} sx={lx} sy={ly} />
      <Rings pts={rlScatter} sx={lx} sy={ly} />
      <path d={path(lx, ly)(rlFitLine) || ""} fill="none" stroke="#f02020" strokeWidth={1.1} />
      <path d={lLine(cookHalf) || ""} fill="none" stroke="#f02020" strokeWidth={.9} strokeDasharray="3 1.6" />
      <path d={lLine(cookOne) || ""} fill="none" stroke="#f02020" strokeWidth={.9} strokeDasharray="3 1.6" />
      {rlLabels.map(l => <PtLabel key={l.t} x={lx(l.p[0]) - 3} y={ly(l.p[1]) + 2} t={l.t} />)}
      <PtLabel x={972.5} y={555.5} t="21765" anchor="start" />
      <text x={1265} y={556.5} fontFamily={sans} fontSize={7.4} fill="#f02020">1</text>
      <text x={1265} y={599.5} fontFamily={sans} fontSize={7.4} fill="#f02020">0.5</text>
      <line x1={940} x2={958} y1={760.5} y2={760.5} stroke="#f02020" strokeWidth={1} strokeDasharray="4 2" />
      <text x={966.5} y={763.5} fontFamily={sans} fontSize={9.5} fill="#333">Cook's distance</text>
    </g>
  </svg>;
}
